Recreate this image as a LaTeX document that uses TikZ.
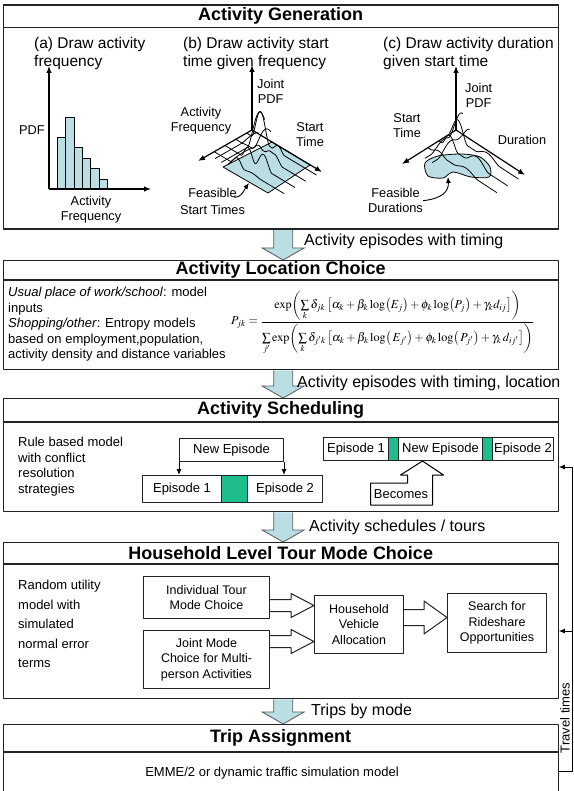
\documentclass[tikz,border=0pt]{standalone}
\usepackage{graphicx}
\usepackage{mathptmx}
\usepackage{fontspec}
\setmainfont{Liberation Sans}
\usetikzlibrary{calc,arrows.meta}

\definecolor{ink}{RGB}{35,35,35}
\definecolor{flowblue}{RGB}{186,222,228}
\definecolor{epgreen}{RGB}{30,190,140}

\newcommand\fsz[2]{\fontsize{#1}{#2}\selectfont}

\pgfdeclarelayer{bg}
\pgfsetlayers{bg,main}

% wide light-blue arrow carrying the flow from one stage to the next
\newcommand\flowarrow[2]{%
  \draw[blockarrow] ($(#1)+(-9.5,0)$) -- ($(#2)+(-9.5,-12)$) -- ($(#2)+(-21,-12)$) -- (#2)
    -- ($(#2)+(21,-12)$) -- ($(#2)+(9.5,-12)$) -- ($(#1)+(9.5,0)$);}
% outlined arrow between choice boxes: start, tip, shaft half width, head half width
\newcommand\hollowarrow[4]{%
  \draw[hollow] ($(#1)+(0,-#3)$) -- ($(#2)+(-23,-#3)$) -- ($(#2)+(-23,-#4)$) -- (#2)
    -- ($(#2)+(-23,#4)$) -- ($(#2)+(-23,#3)$) -- ($(#1)+(0,#3)$);}

\begin{document}
\begin{tikzpicture}[x=1pt,y=-1pt,line join=round,
  stage/.style={draw=ink, line width=1.3pt, inner sep=0pt},
  rule/.style={draw=ink, line width=1.3pt},
  ttl/.style={font=\fsz{18}{21}\bfseries, inner sep=0pt},
  body/.style={font=\fsz{13}{15.5}, align=left, inner sep=0pt, anchor=north west},
  sub/.style={font=\fsz{15.5}{18.5}, align=left, inner sep=0pt, anchor=north west},
  lbl/.style={font=\fsz{12.8}{15}, align=center, inner sep=0pt, anchor=north},
  flowlbl/.style={font=\fsz{16}{18}, inner sep=0pt, anchor=west},
  blockarrow/.style={draw=ink!75, line width=0.8pt, fill=flowblue},
  hollow/.style={draw=ink, line width=1pt, fill=white},
  cell/.style={draw=ink, line width=1pt, inner sep=0pt, font=\fsz{13}{15}, anchor=north west},
  choice/.style={draw=ink, line width=1pt, align=center, inner sep=0pt, anchor=north west, font=\fsz{12.5}{15.5}},
  axis/.style={draw=black, line width=1.2pt, -{Latex[length=7pt,width=5.5pt]}},
  sketch/.style={draw=black, line width=0.8pt},
  declare function={
    bump(\p,\w)=max(0,1-(\p/\w)*(\p/\w))^2;
    hb(\p,\q)=30*bump(\p-0.1,0.22)*bump(\q-0.2,0.13)+15*bump(\p-0.45,0.3)*bump(\q-0.55,0.12)+12*bump(\p-0.5,0.45)*bump(\q-0.33,0.1)+8*bump(\p-0.2,0.3)*bump(\q-0.45,0.09);
    hc(\p,\q)=24*bump(\p-0.05,0.22)*bump(\q-0.12,0.14)+13*bump(\p-0.35,0.25)*bump(\q-0.16,0.12)+9*bump(\p-0.3,0.4)*bump(\q-0.55,0.18);
  }]
\useasboundingbox (0,0) rectangle (573,791);
\clip (0,0) rectangle (573,791);

% ---------- stage frames ----------
\node[stage, minimum width=555, minimum height=224, anchor=north west] (gen) at (2.5,4.5) {};
\node[stage, minimum width=555, minimum height=109, anchor=north west] (loc) at (2.5,260) {};
\node[stage, minimum width=555, minimum height=113, anchor=north west] (sched) at (2.5,398) {};
\node[stage, minimum width=555, minimum height=156, anchor=north west] (mode) at (2.5,542) {};
\node[stage, minimum width=555, minimum height=80, anchor=north west] (assign) at (2.5,724) {};

\draw[rule] ($(gen.north west)+(0,23)$) -- ($(gen.north east)+(0,23)$);
\draw[rule] ($(loc.north west)+(0,20)$) -- ($(loc.north east)+(0,20)$);
\draw[rule] ($(sched.north west)+(0,24)$) -- ($(sched.north east)+(0,24)$);
\draw[rule] ($(mode.north west)+(0,22)$) -- ($(mode.north east)+(0,22)$);
\draw[rule] ($(assign.north west)+(0,28)$) -- ($(assign.north east)+(0,28)$);

\node[ttl] (genT) at ($(gen.north)+(0,11.5)$) {Activity Generation};
\node[ttl] (locT) at ($(loc.north)+(0,10)$) {Activity Location Choice};
\node[ttl] (schedT) at ($(sched.north)+(0,12)$) {Activity Scheduling};
\node[ttl] (modeT) at ($(mode.north)+(0,11)$) {Household Level Tour Mode Choice};
\node[ttl] (assignT) at ($(assign.north)+(0,14)$) {Trip Assignment};

% ---------- flow arrows between stages ----------
\coordinate (f1s) at ($(gen.south)+(2.5,0)$);   \coordinate (f1t) at ($(loc.north)+(2.5,0)$);
\coordinate (f2s) at ($(loc.south)+(2.5,0)$);   \coordinate (f2t) at ($(sched.north)+(2.5,0)$);
\coordinate (f3s) at ($(sched.south)+(2.5,0)$); \coordinate (f3t) at ($(mode.north)+(2.5,0)$);
\coordinate (f4s) at ($(mode.south)+(2.5,0)$);  \coordinate (f4t) at ($(assign.north)+(2.5,0)$);
\begin{pgfonlayer}{bg}
\flowarrow{f1s}{f1t}
\flowarrow{f2s}{f2t}
\flowarrow{f3s}{f3t}
\flowarrow{f4s}{f4t}
\end{pgfonlayer}
\node[flowlbl] (f1l) at (304,241) {Activity episodes with timing};
\node[flowlbl] (f2l) at (297,383) {Activity episodes with timing, location};
\node[flowlbl] (f3l) at (309,527) {Activity schedules / tours};
\node[flowlbl] (f4l) at (311,711) {Trips by mode};

% ---------- (a) activity frequency ----------
\node[sub] (subA) at (34,37) {(a) Draw activity\\frequency};
\foreach \xa/\xb/\yt in {57.3/65.7/137,65.7/74/117,74/82.3/147,82.3/90.7/158,90.7/99/168,99/107.3/179}
  \draw[sketch, fill=flowblue] (\xa,189) rectangle (\xb,\yt);
\draw[axis] (49,189) -- (49,66);
\draw[axis] (49,189) -- (151,189);
\node[font=\fsz{12.8}{15}, inner sep=0pt] (pdfA) at (32,130) {PDF};
\node[lbl, font=\fsz{12.8}{14.5}] (freqA) at (91,196.3) {Activity\\Frequency};

% ---------- (b) start time given frequency ----------
\node[sub] (subB) at (183,37) {(b) Draw activity start\\time given frequency};
\fill[flowblue] (272,142) -- (310,165) -- (268,193) -- (223,167) -- cycle;
\draw[sketch] (272,142) -- (310,165) -- (268,193) -- (223,167) -- cycle;
\foreach \ta in {0.1,0.3,0.5,0.7}
  \draw[sketch] plot[domain=0:1, samples=70, smooth] ({252-54*\ta+70*\x},{130+31*\ta+42*\x-hb(\ta,\x)});
\foreach \sa in {0.09,0.18,0.27}
  \draw[sketch] plot[domain=0:0.8, samples=40, smooth] ({252-54*\x+70*\sa},{130+31*\x+42*\sa-hb(\x,\sa)});
\draw[axis] (252,130) -- (252,65);
\draw[axis] (252,130) -- (198,161);
\draw[axis] (252,130) -- (322,172);
\node[lbl, anchor=north west] (jpB) at (257,79.3) {Joint\\PDF};
\node[lbl] (afB) at (201,107.3) {Activity\\Frequency};
\node[lbl] (stB) at (310,122.3) {Start\\Time};
\node[lbl, font=\fsz{12.8}{16.5}] (feasB) at (212.5,188.3) {Feasible\\Start Times};
\coordinate (feasBtip) at (249,183);
\draw[line width=0.9pt, -{Latex[length=6pt,width=5pt]}] ($(feasB.north east)+(-11,9)$) .. controls ($(feasB.north east)+(-3,9)$) and (244,190) .. (feasBtip);

% ---------- (c) duration given start time ----------
\node[sub] (subC) at (383,37) {(c) Draw activity duration\\given start time};
\draw[sketch, fill=flowblue] plot[smooth cycle] coordinates {(425,163) (438,156) (462,154) (480,157) (490,167) (489,177) (471,177) (453,172) (443,178) (428,176)};
\foreach \ta in {0.12,0.32,0.52}
  \draw[sketch] plot[domain=0:1, samples=70, smooth] ({456-54*\ta+69*\x},{130+34*\ta+45*\x-hc(\ta,\x)});
\foreach \sa in {0.1,0.2}
  \draw[sketch] plot[domain=0:0.7, samples=40, smooth] ({456-54*\x+69*\sa},{130+34*\x+45*\sa-hc(\x,\sa)});
\draw[axis] (456,130) -- (456,66);
\draw[axis] (456,130) -- (402,164);
\draw[axis] (456,130) -- (525,175);
\node[lbl, anchor=north west] (jpC) at (465,83.3) {Joint\\PDF};
\node[lbl] (stC) at (407,113.3) {Start\\Time};
\node[font=\fsz{12.8}{15}, inner sep=0pt] (durC) at (522,140) {Duration};
\node[lbl] (feasC) at (395.5,188.3) {Feasible\\Durations};
\coordinate (feasCtip) at (448,177);
\draw[line width=0.9pt, -{Latex[length=6pt,width=5pt]}] (feasC.east) .. controls ($(feasC.east)+(18,-2)$) and (449,192) .. (feasCtip);

% ---------- location choice ----------
\node[body, font=\fsz{13}{15.5}] (locTxt) at (8,287) {\textit{Usual place of work/school}: model\\inputs\\\textit{Shopping/other}: Entropy models\\based on employment,population,\\activity density and distance variables};
\node[anchor=west, inner sep=0pt] (pjk) at (231,323) {\resizebox{303pt}{!}{$\displaystyle P_{jk}=\frac{\exp\!\left(\sum\limits_{k}\delta_{jk}\left[\alpha_k+\beta_k\log\bigl(E_j\bigr)+\phi_k\log\bigl(P_j\bigr)+\gamma_k d_{ij}\right]\right)}{\sum\limits_{j'}\exp\!\left(\sum\limits_{k}\delta_{j'k}\left[\alpha_k+\beta_k\log\bigl(\,E_{j'}\bigr)+\phi_k\log\bigl(\,P_{j'}\bigr)+\gamma_k\, d_{ij'}\right]\right)}$}};

% ---------- scheduling ----------
\node[body] (schedTxt) at (18,437) {Rule based model\\with conflict\\resolution\\strategies};
\node[cell, minimum width=79, minimum height=27] (lEp1) at (142,475) {Episode 1};
\node[cell, minimum width=26, minimum height=27, fill=epgreen] (lGap) at (221,475) {};
\node[cell, minimum width=75, minimum height=27] (lEp2) at (247,475) {Episode 2};
\node[cell, minimum width=104, minimum height=23] (newEp) at (179,438) {New Episode};
\draw[line width=1pt, -{Latex[length=6pt,width=5pt]}] (newEp.south west) -- (newEp.south west |- lEp1.north);
\draw[line width=1pt, -{Latex[length=6pt,width=5pt]}] (newEp.south east) -- (newEp.south east |- lEp2.north);

\node[cell, minimum width=65, minimum height=23] (rEp1) at (323,437) {Episode 1};
\node[cell, minimum width=10, minimum height=23, fill=epgreen] (rGap1) at (388,437) {};
\node[cell, minimum width=84, minimum height=23] (rNew) at (398,437) {New Episode};
\node[cell, minimum width=10, minimum height=23, fill=epgreen] (rGap2) at (482,437) {};
\node[cell, minimum width=61, minimum height=23] (rEp2) at (492,437) {Episode 2};
\node[font=\fsz{13}{15}, inner sep=0pt] (becomes) at (401,494) {Becomes};
\coordinate (becTip) at ($(rNew.south)+(-18,0)$);
\draw[line width=1pt] (becTip) -- ++(21,14) -- ++(-11,0) -- ++(0,30) -- ++(-62,0) -- ++(0,-22) -- ++(37,0) -- ++(0,-8) -- ++(-7,0) -- cycle;

% ---------- household tour mode choice ----------
\node[body, font=\fsz{13}{19.5}] (modeTxt) at (18,580) {Random utility\\model with\\simulated\\normal error\\terms};
\node[choice, minimum width=126, minimum height=42] (indiv) at (143,576) {Individual Tour\\Mode Choice};
\node[choice, minimum width=126, minimum height=58] (joint) at (143,630) {Joint Mode\\Choice for Multi-\\person Activities};
\node[choice, minimum width=89, minimum height=58] (hva) at (314,595) {Household\\Vehicle\\Allocation};
\node[choice, minimum width=99, minimum height=59] (search) at (447,593) {Search for\\Rideshare\\Opportunities};
\coordinate (h1s) at ($(indiv.east)+(0,8)$);   \coordinate (h1t) at (h1s -| hva.west);
\coordinate (h2s) at ($(joint.east)+(0,-18)$); \coordinate (h2t) at (h2s -| hva.west);
\coordinate (h3s) at ($(hva.east)+(0,-7)$);    \coordinate (h3t) at (h3s -| search.west);
\hollowarrow{h1s}{h1t}{6}{12}
\hollowarrow{h2s}{h2t}{6}{12}
\hollowarrow{h3s}{h3t}{8}{16.5}

% ---------- trip assignment and travel-time feedback ----------
\node[font=\fsz{13}{15}, inner sep=0pt] (emme) at (272,773) {EMME/2 or dynamic traffic simulation model};
\coordinate (fbBot) at (572,771);
\coordinate (fbTop) at (572,467);
\coordinate (fbMid) at (572,631);
\draw[line width=1pt] (fbBot -| assign.east) -- (fbBot) -- (fbTop);
\draw[line width=1pt, -{Latex[length=6pt,width=5pt]}] (fbTop) -- (fbTop -| sched.east);
\draw[line width=1pt, -{Latex[length=6pt,width=5pt]}] (fbMid) -- (fbMid -| mode.east);
\node[font=\fsz{13}{15}, inner sep=0pt, rotate=90] (tt) at (565,718) {Travel times};
\end{tikzpicture}
\end{document}
